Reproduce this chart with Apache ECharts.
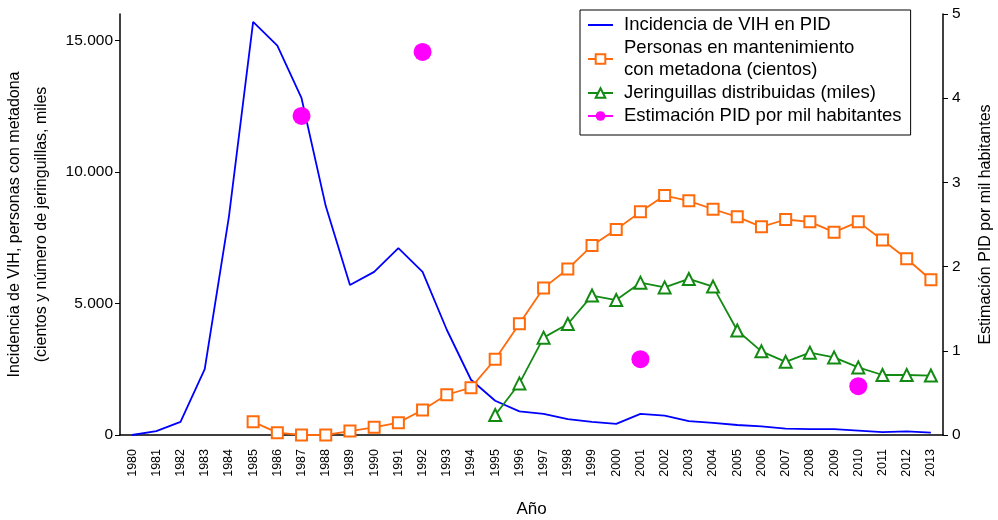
<!DOCTYPE html>
<html>
<head>
<meta charset="utf-8">
<script src="https://cdn.jsdelivr.net/npm/echarts@6/dist/echarts.min.js"></script>
<style>
  html, body { margin: 0; padding: 0; background: #fff; }
  #chart { width: 998px; height: 520px; }
</style>
</head>
<body>
<div id="chart"></div>
<script>
const years = [];
for (let y = 1980; y <= 2013; y++) years.push(String(y));

// Incidencia de VIH en PID (casos)
const incidencia = [0, 150, 500, 2500, 8300, 15700, 14800, 12800, 8700, 5700,
  6200, 7100, 6200, 4000, 2100, 1300, 900, 800, 600, 500,
  420, 800, 740, 530, 460, 380, 330, 240, 220, 220,
  170, 110, 140, 90];

// Personas en mantenimiento con metadona (cientos)
const metadona = [null, null, null, null, null, 500, 90, 0, 0, 150,
  290, 470, 950, 1530, 1800, 2880, 4230, 5590, 6310, 7200,
  7810, 8480, 9100, 8900, 8580, 8290, 7910, 8190, 8100, 7710,
  8100, 7410, 6700, 5900];

// Jeringuillas distribuidas (miles)
const jeringuillas = [null, null, null, null, null, null, null, null, null, null,
  null, null, null, null, null, 760, 1960, 3700, 4220, 5300,
  5130, 5790, 5610, 5930, 5640, 3970, 3180, 2780, 3130, 2950,
  2570, 2280, 2280, 2260];

// Estimación PID por mil habitantes (eje derecho)
const estimacion = years.map(() => null);
estimacion[years.indexOf("1987")] = 3.79;
estimacion[years.indexOf("1992")] = 4.55;
estimacion[years.indexOf("2001")] = 0.9;
estimacion[years.indexOf("2010")] = 0.58;

const leftTicks = [0, 5000, 10000, 15000];

const font = "Liberation Sans, Arial, Helvetica, sans-serif";
const chart = echarts.init(document.getElementById("chart"));

function miles(v) {
  return String(v).replace(/\B(?=(\d{3})+(?!\d))/g, ".");
}

chart.setOption({
  animation: false,
  textStyle: { fontFamily: font, color: "#000" },
  grid: { left: 120, right: 55, top: 14, bottom: 85, outerBoundsMode: "none" },
  legend: {
    orient: "vertical",
    left: 580,
    top: 10,
    padding: [4, 9, 8, 7],
    itemGap: 1,
    itemWidth: 25,
    itemHeight: 12,
    borderColor: "#000",
    borderWidth: 1,
    textStyle: { fontSize: 18.5, fontFamily: font, color: "#000", lineHeight: 22, padding: [0, 0, 0, 6] },
    data: [
      { name: "Incidencia de VIH en PID", itemStyle: { color: "rgba(0,0,0,0)", borderWidth: 0, opacity: 0 } },
      "Personas en mantenimiento\ncon metadona (cientos)",
      "Jeringuillas distribuidas (miles)",
      "Estimación PID por mil habitantes",
    ],
  },
  xAxis: {
    type: "category",
    data: years,
    boundaryGap: true,
    name: "Año",
    nameLocation: "middle",
    nameGap: 66,
    nameTextStyle: { fontSize: 17, color: "#000" },
    axisLine: { lineStyle: { color: "#000", width: 1.5 } },
    axisTick: { length: 6, lineStyle: { color: "#000" } },
    axisLabel: { rotate: 90, fontSize: 12.5, color: "#000", interval: 0, margin: 14 },
  },
  yAxis: [
    {
      type: "value",
      min: 0,
      max: 16000,
      interval: 5000,
      name: "Incidencia de VIH, personas con metadona\n(cientos y número de jeringuillas, miles",
      nameLocation: "middle",
      nameGap: 60,
      nameTextStyle: { fontSize: 16, color: "#000", lineHeight: 27 },
      splitLine: { show: false },
      axisLine: { show: true, lineStyle: { color: "#000", width: 1.5 } },
      axisTick: { show: true, length: 5, customValues: leftTicks, lineStyle: { color: "#000" } },
      axisLabel: {
        fontSize: 15.5,
        color: "#000",
        margin: 7,
        customValues: leftTicks,
        formatter: miles,
      },
    },
    {
      type: "value",
      min: 0,
      max: 5,
      interval: 1,
      position: "right",
      name: "Estimación PID por mil habitantes",
      nameLocation: "middle",
      nameRotate: 90,
      nameGap: 35,
      nameTextStyle: { fontSize: 16, color: "#000" },
      splitLine: { show: false },
      axisLine: { show: true, lineStyle: { color: "#000", width: 1.5 } },
      axisTick: { show: true, length: 5, lineStyle: { color: "#000" } },
      axisLabel: { fontSize: 15.5, color: "#000", margin: 9 },
    },
  ],
  series: [
    {
      name: "Incidencia de VIH en PID",
      type: "line",
      data: incidencia,
      symbol: "none",
      color: "#0000ff",
      lineStyle: { color: "#0000ff", width: 1.8 },
    },
    {
      name: "Personas en mantenimiento\ncon metadona (cientos)",
      type: "line",
      data: metadona,
      symbol: "emptyRect",
      symbolSize: 11,
      color: "#ff6a0a",
      itemStyle: { color: "#ff6a0a", borderWidth: 1.6 },
      lineStyle: { color: "#ff6a0a", width: 1.8 },
    },
    {
      name: "Jeringuillas distribuidas (miles)",
      type: "line",
      data: jeringuillas,
      symbol: "emptyTriangle",
      symbolSize: 12,
      color: "#138a13",
      itemStyle: { color: "#138a13", borderWidth: 1.6 },
      lineStyle: { color: "#138a13", width: 1.8 },
    },
    {
      name: "Estimación PID por mil habitantes",
      type: "line",
      yAxisIndex: 1,
      data: estimacion,
      connectNulls: false,
      symbol: "circle",
      symbolSize: 18,
      color: "#ff00ff",
      itemStyle: { color: "#ff00ff" },
      lineStyle: { color: "#ff00ff", width: 1.8 },
    },
  ],
});
</script>
</body>
</html>
